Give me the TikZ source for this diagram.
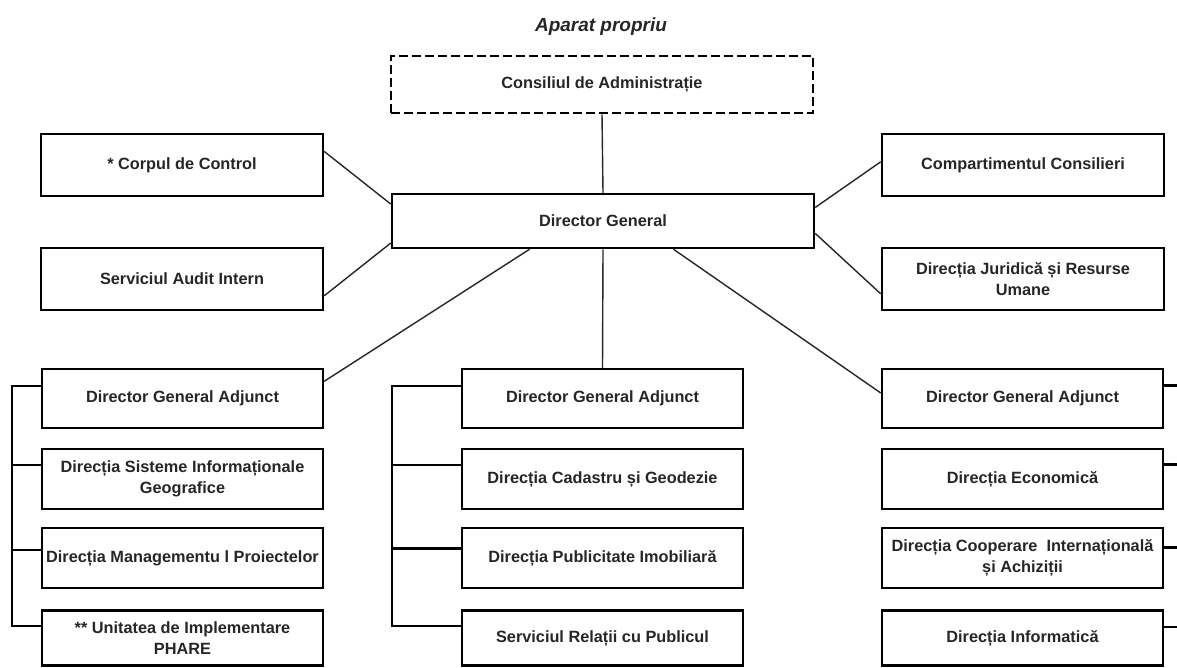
\documentclass[tikz,border=0pt]{standalone}
\usepackage{fontspec}
\setmainfont{Liberation Sans}
\usetikzlibrary{calc}
\tikzset{
  box/.style={draw=black, line width=2.5pt, inner sep=0pt, align=center,
    font=\bfseries\fontsize{16.3}{20.5}\selectfont, text=black!85},
  dashbox/.style={box, dash pattern=on 9pt off 4pt, line width=2.6pt},
  conn/.style={draw=black!85, line width=1.4pt},
  brk/.style={draw=black, line width=2.4pt},
  ttl/.style={font=\bfseries\itshape\fontsize{19}{22}\selectfont, text=black!85, inner sep=0pt}
}
\begin{document}
\begin{tikzpicture}[x=1pt,y=-1pt]
\fill[white] (0,0) rectangle (1177,667);
\useasboundingbox (0,0) rectangle (1177,667);

\node[ttl] (title) at (601,27) {Aparat propriu};

\node[dashbox, minimum width=422pt, minimum height=57pt] (cons) at (602,84.5) {Consiliul de Administrație};
\node[box, minimum width=422pt, minimum height=54pt] (dg) at (603,221) {Director General};

\node[box, minimum width=282pt, minimum height=62pt] (corp) at (182,165) {* Corpul de Control};
\node[box, minimum width=282pt, minimum height=62pt] (audit) at (182,279) {Serviciul Audit Intern};
\node[box, minimum width=282pt, minimum height=62pt] (comp) at (1023,165) {Compartimentul Consilieri};
\node[box, minimum width=282pt, minimum height=62pt] (jur) at (1023,279) {Direcția Juridică și Resurse\\Umane};

% left column
\node[box, minimum width=281pt, minimum height=59pt] (l1) at (182.5,398.5) {Director General Adjunct};
\node[box, minimum width=281pt, minimum height=60pt] (l2) at (182.5,479) {Direcția Sisteme Informaționale\\Geografice};
\node[box, minimum width=281pt, minimum height=60pt] (l3) at (182.5,558) {Direcția Managementu l Proiectelor};
\node[box, minimum width=281pt, minimum height=55pt] (l4) at (182.5,638) {** Unitatea de Implementare\\PHARE};

% middle column
\node[box, minimum width=281pt, minimum height=59pt] (m1) at (602.5,398.5) {Director General Adjunct};
\node[box, minimum width=281pt, minimum height=60pt] (m2) at (602.5,479) {Direcția Cadastru și Geodezie};
\node[box, minimum width=281pt, minimum height=60pt] (m3) at (602.5,558) {Direcția Publicitate Imobiliară};
\node[box, minimum width=281pt, minimum height=55pt] (m4) at (602.5,638) {Serviciul Relații cu Publicul};

% right column
\node[box, minimum width=281pt, minimum height=59pt] (r1) at (1022.5,398.5) {Director General Adjunct};
\node[box, minimum width=281pt, minimum height=60pt] (r2) at (1022.5,479) {Direcția Economică};
\node[box, minimum width=281pt, minimum height=60pt] (r3) at (1022.5,558) {Direcția Cooperare \ Internațională\\și Achiziții};
\node[box, minimum width=281pt, minimum height=55pt] (r4) at (1022.5,638) {Direcția Informatică};

% connectors from the top
\draw[conn] (cons.south) -- (dg.north);
\draw[conn] ($(corp.north east)!0.29!(corp.south east)$) -- ($(dg.north west)!0.2!(dg.south west)$);
\draw[conn] ($(audit.north east)!0.76!(audit.south east)$) -- ($(dg.north west)!0.89!(dg.south west)$);
\draw[conn] ($(dg.north east)!0.26!(dg.south east)$) -- ($(comp.north west)!0.45!(comp.south west)$);
\draw[conn] ($(dg.north east)!0.72!(dg.south east)$) -- ($(jur.north west)!0.73!(jur.south west)$);
\draw[conn] ($(dg.south west)!0.327!(dg.south east)$) -- ($(l1.north east)!0.22!(l1.south east)$);
\draw[conn] (dg.south) -- (m1.north);
\draw[conn] ($(dg.south west)!0.666!(dg.south east)$) -- ($(r1.north west)!0.41!(r1.south west)$);

% brackets
\coordinate (lb) at (12,0);
\coordinate (mb) at (392,0);
\coordinate (rb) at (1180,0);
\coordinate (la1) at ($(l1.north west)!0.3!(l1.south west)$);
\coordinate (la2) at ($(l2.north west)!0.28!(l2.south west)$);
\coordinate (la3) at ($(l3.north west)!0.37!(l3.south west)$);
\coordinate (la4) at ($(l4.north west)!0.29!(l4.south west)$);
\draw[brk] (la1) -- (la1 -| lb) -- (la4 -| lb) -- (la4);
\draw[brk] (la2) -- (la2 -| lb);
\draw[brk] (la3) -- (la3 -| lb);

\coordinate (ma1) at ($(m1.north west)!0.3!(m1.south west)$);
\coordinate (ma2) at ($(m2.north west)!0.28!(m2.south west)$);
\coordinate (ma3) at ($(m3.north west)!0.35!(m3.south west)$);
\coordinate (ma4) at ($(m4.north west)!0.29!(m4.south west)$);
\draw[brk] (ma1) -- (ma1 -| mb) -- (ma4 -| mb) -- (ma4);
\draw[brk] (ma2) -- (ma2 -| mb);
\draw[brk] (ma3) -- (ma3 -| mb);

\coordinate (ra1) at ($(r1.north east)!0.29!(r1.south east)$);
\coordinate (ra2) at ($(r2.north east)!0.27!(r2.south east)$);
\coordinate (ra3) at ($(r3.north east)!0.33!(r3.south east)$);
\coordinate (ra4) at ($(r4.north east)!0.31!(r4.south east)$);
\draw[brk] (ra1) -- (ra1 -| rb);
\draw[brk] (ra2) -- (ra2 -| rb);
\draw[brk] (ra3) -- (ra3 -| rb);
\draw[brk] (ra4) -- (ra4 -| rb);
\end{tikzpicture}
\end{document}
